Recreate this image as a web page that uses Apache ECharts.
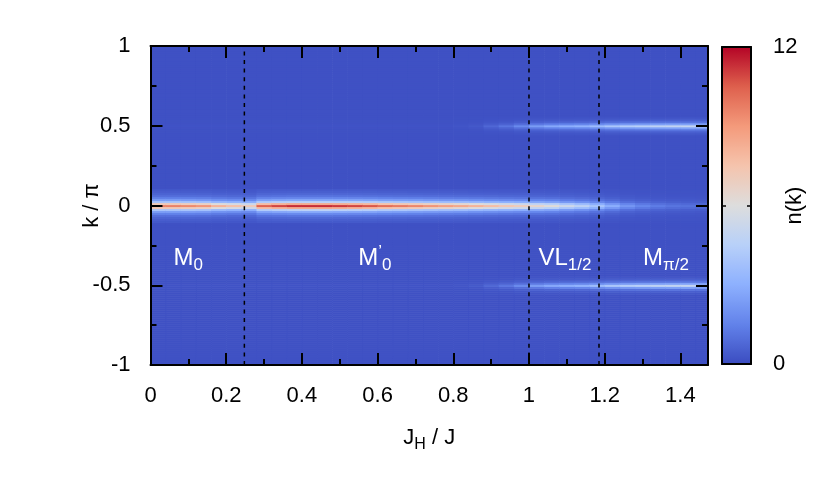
<!DOCTYPE html>
<html><head><meta charset="utf-8">
<script src="https://cdn.jsdelivr.net/npm/echarts@6/dist/echarts.min.js"></script>
<style>html,body{margin:0;padding:0;background:#fff}#c{width:830px;height:488px}</style>
</head><body><div id="c"></div>
<script>
// ---- data ----
const jH = [0.02,0.06,0.10,0.14,0.18,0.22,0.26,0.30,0.34,0.38,0.42,0.46,0.50,0.54,0.58,0.62,0.66,0.70,0.74,0.78,0.82,0.86,0.90,0.94,0.98,1.02,1.06,1.10,1.14,1.18,1.22,1.26,1.30,1.34,1.38,1.42,1.46];
const colWidth = 0.04;
// n(k) peak at k = 0 for each J_H column
const peakK0 = [9.5,9.5,9.3,9.0,8.0,7.5,7.0,10.3,10.8,11.2,11.2,11.2,11.0,10.8,10.5,10.0,9.7,9.4,9.0,8.7,8.4,8.0,7.6,7.2,6.9,6.4,6.0,5.2,4.6,3.8,2.8,2.0,1.5,1.2,1.0,0.9,0.8];
// n(k) peak at k = +-0.5 for each J_H column
const peakKHalf = [0.05,0.05,0.05,0.05,0.05,0.05,0.05,0.05,0.05,0.05,0.05,0.05,0.05,0.05,0.05,0.05,0.05,0.05,0.05,0.05,0.1,0.2,0.6,1.0,1.6,2.2,2.6,2.8,3.0,3.4,3.9,4.2,4.4,4.6,4.7,4.8,4.6];
// relative fall-off of the peaks with the row distance from the peak (rows of 0.0125 in k/pi)
const profileK0 = [1,0.74,0.4,0.23,0.14,0.085,0.055,0.035,0.022];
const profileKHalf = [1,0.5,0.2,0.08,0.03];
const background = 0.15;
const kStep = 0.0125;
const phaseBoundaries = [0.248, 1.0, 1.185];
const phaseNames = ['M{s|0}', 'M{p|\u2019}{s|0}', 'VL{s|1/2}', 'M{s|\u03c0/2}'];
const phaseX = [0.10, 0.593, 1.095, 1.362];
const phaseY = [-0.33, -0.33, -0.33, -0.33];
const colorbarMin = 0, colorbarMax = 12;
const coolwarm = ['#3b4cc0','#6282ea','#8db0fe','#b8d0f9','#dddddd','#f5c4ad','#f49a7b','#de604d','#b40426'];

// ---- build cells ----
const cells = [];
const nRows = Math.round(2 / kStep);
for (let c = 0; c < jH.length; c++) {
  for (let r = 0; r <= nRows; r++) {
    const k = -1 + r * kStep;
    const i0 = Math.abs(Math.round(k / kStep));
    const ip = Math.abs(Math.round((k - 0.5) / kStep));
    const im = Math.abs(Math.round((k + 0.5) / kStep));
    let v = background;
    if (i0 < profileK0.length) v += peakK0[c] * profileK0[i0];
    if (ip < profileKHalf.length) v += peakKHalf[c] * profileKHalf[ip];
    if (im < profileKHalf.length) v += peakKHalf[c] * profileKHalf[im];
    cells.push([jH[c] - colWidth / 2, jH[c] + colWidth / 2, k - kStep / 2, k + kStep / 2, Math.min(v, colorbarMax)]);
  }
}

const FONT = 'Liberation Sans';
const chart = echarts.init(document.getElementById('c'), null, {renderer: 'canvas'});
const blk = {color: '#000', width: 2};
const xMax = 1.473;
const baseX = {gridIndex: 0, type: 'value', min: 0, max: xMax, z: 10, splitLine: {show: false}};
const baseY = {gridIndex: 0, type: 'value', min: -1, max: 1, interval: 0.5, z: 10, splitLine: {show: false}};
const line = {onZero: false, lineStyle: blk};
const noLine = {show: false, onZero: false};

const series = [{
  type: 'custom', xAxisIndex: 0, yAxisIndex: 0, data: cells, clip: true, z: 2,
  encode: {x: [0, 1], y: [2, 3]},
  renderItem: function (params, api) {
    const cs = params.coordSys;
    const p0 = api.coord([api.value(0), api.value(3)]);
    const p1 = api.coord([api.value(1), api.value(2)]);
    const x0 = Math.max(p0[0], cs.x), x1 = Math.min(p1[0] + 0.6, cs.x + cs.width);
    const y0 = Math.max(p0[1], cs.y), y1 = Math.min(p1[1] + 0.6, cs.y + cs.height);
    return {type: 'rect', shape: {x: x0, y: y0, width: Math.max(0, x1 - x0), height: Math.max(0, y1 - y0)},
      style: {fill: api.visual('color')}};
  }
}];
phaseBoundaries.forEach(function (b) {
  series.push({type: 'line', xAxisIndex: 0, yAxisIndex: 0, data: [[b, -1], [b, 1]], symbol: 'none', z: 5,
    lineStyle: {color: '#000', width: 1.5, type: [4, 4.6]}, silent: true});
});
series.push({
  type: 'scatter', xAxisIndex: 0, yAxisIndex: 0, symbolSize: 0, z: 6, silent: true,
  itemStyle: {opacity: 1},
  data: phaseX.map(function (x, i) { return [x, phaseY[i]]; }),
  label: {show: true, position: 'inside', color: '#fff', fontFamily: FONT, fontSize: 24, opacity: 1,
    formatter: function (p) { return phaseNames[p.dataIndex]; },
    rich: {
      s: {fontSize: 17, color: '#fff', fontFamily: FONT, padding: [15, 0, 0, 0]},
      p: {fontSize: 17, color: '#fff', fontFamily: FONT, padding: [0, 0, 12, 0]}
    }}
});

chart.setOption({
  animation: false,
  textStyle: {fontFamily: FONT},
  grid: [
    {left: 150.5, top: 46, width: 557.5, height: 319},
    {left: 722, top: 47, width: 29, height: 317}
  ],
  visualMap: {
    type: 'continuous', min: colorbarMin, max: colorbarMax, dimension: 4, seriesIndex: 0,
    inRange: {color: coolwarm}, left: 722, top: 47, itemWidth: 29, itemHeight: 317,
    padding: 0, calculable: false, realtime: false, hoverLink: false
  },
  xAxis: [
    Object.assign({}, baseX, {position: 'bottom', interval: 0.2, axisLine: line,
      axisTick: {inside: true, length: 12, lineStyle: blk},
      axisLabel: {color: '#000', fontSize: 22, margin: 20, showMaxLabel: false, fontFamily: FONT},
      name: 'J{s|H} / J', nameLocation: 'middle', nameGap: 58, nameMoveOverlap: false,
      nameTextStyle: {color: '#000', fontSize: 22, fontFamily: FONT,
        rich: {s: {fontSize: 16, fontFamily: FONT, color: '#000', padding: [14, 0, 0, 0]}}}}),
    Object.assign({}, baseX, {position: 'bottom', interval: 0.1, axisLine: noLine,
      axisTick: {inside: true, length: 6, lineStyle: blk}, axisLabel: {show: false}}),
    Object.assign({}, baseX, {position: 'top', interval: 0.2, axisLine: line,
      axisTick: {inside: true, length: 12, lineStyle: blk}, axisLabel: {show: false}}),
    Object.assign({}, baseX, {position: 'top', interval: 0.1, axisLine: noLine,
      axisTick: {inside: true, length: 6, lineStyle: blk}, axisLabel: {show: false}}),
    {gridIndex: 1, type: 'value', min: 0, max: 1, position: 'bottom', z: 10, axisLine: line,
      axisTick: {show: false}, axisLabel: {show: false}, splitLine: {show: false}},
    {gridIndex: 1, type: 'value', min: 0, max: 1, position: 'top', z: 10, axisLine: line,
      axisTick: {show: false}, axisLabel: {show: false}, splitLine: {show: false}}
  ],
  yAxis: [
    Object.assign({}, baseY, {position: 'left', axisLine: line,
      axisTick: {inside: true, length: 12, lineStyle: blk},
      minorTick: {show: true, splitNumber: 2, length: 6, lineStyle: blk},
      axisLabel: {color: '#000', fontSize: 22, margin: 20, fontFamily: FONT, padding: [7, 0, 0, 0]},
      name: 'k / \u03c0', nameLocation: 'middle', nameGap: 48, nameRotate: 90, nameMoveOverlap: false,
      nameTextStyle: {color: '#000', fontSize: 22, fontFamily: FONT}}),
    Object.assign({}, baseY, {position: 'right', axisLine: line,
      axisTick: {inside: true, length: 12, lineStyle: blk},
      minorTick: {show: true, splitNumber: 2, length: 6, lineStyle: blk},
      axisLabel: {show: false}}),
    {gridIndex: 1, type: 'value', min: colorbarMin, max: colorbarMax, interval: 6, position: 'right', z: 10,
      axisLine: line, splitLine: {show: false},
      axisTick: {inside: true, length: 4, lineStyle: {color: '#000', width: 1.5}},
      axisLabel: {color: '#000', fontSize: 22, margin: 22, fontFamily: FONT, padding: [3, 0, 0, 0],
        formatter: function (v) { return (v === colorbarMin || v === colorbarMax) ? String(v) : ''; }},
      name: 'n(k)', nameLocation: 'middle', nameGap: 33, nameRotate: 90, nameMoveOverlap: false,
      nameTextStyle: {color: '#000', fontSize: 22, fontFamily: FONT}},
    {gridIndex: 1, type: 'value', min: colorbarMin, max: colorbarMax, interval: 6, position: 'left', z: 10,
      axisLine: line, splitLine: {show: false},
      axisTick: {inside: true, length: 4, lineStyle: {color: '#000', width: 1.5}}, axisLabel: {show: false}}
  ],
  series: series
});
</script></body></html>
